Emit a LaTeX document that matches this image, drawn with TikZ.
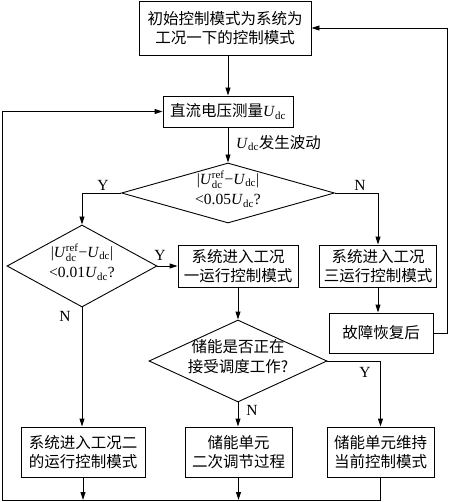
\documentclass[tikz,border=0pt]{standalone}
\usepackage{amsmath}
\usepackage{fontspec}
\setmainfont{Liberation Serif}
\newfontfamily\cjk{Noto Sans CJK SC}
\usetikzlibrary{arrows.meta,shapes.geometric,calc}
\newcommand\myUdc{\textit{U}$_{\text{dc}}$}
\newcommand\myUref{\textit{U\/}$^{\text{ref}}_{\text{dc}}$}
\newcommand\dtext[1]{\raisebox{-2pt}{\makebox[0pt]{\smash{\begin{tabular}{@{}c@{}}#1\end{tabular}}}}}
\begin{document}
\begin{tikzpicture}[x=1pt,y=-1pt,
  font=\fontsize{15.5}{19.5}\selectfont,
  every node/.style={inner sep=0pt},
  box/.style={draw, line width=0.9pt, align=center, font=\fontsize{15.5}{19.5}\selectfont\cjk},
  dia/.style={draw, line width=0.9pt, diamond, shape aspect=1},
  lbl/.style={font=\fontsize{15.5}{19.5}\selectfont},
  line/.style={line width=0.9pt},
  arr/.style={line width=0.9pt, -{Triangle[length=8pt,width=5pt]}}]
\useasboundingbox (0,0) rectangle (450,502);
% nodes
\node[box, minimum width=172pt, minimum height=54pt] (top) at (225,28) {初始控制模式为系统为\\工况一下的控制模式};
\node[box, minimum width=130pt, minimum height=31pt] (meas) at (228,111.5) {直流电压测量{\rmfamily\myUdc}};
\node[lbl, anchor=west] (wave) at (236,143) {\myUdc{\cjk 发生波动}};
\node[dia, minimum width=213pt, minimum height=60pt] (d1) at (228,193) {\dtext{|\myUref−\myUdc|\\[1pt]<0.05\myUdc?}};
\node[dia, minimum width=150pt, minimum height=82pt] (d2) at (82,266) {\dtext{|\myUref−\myUdc|\\[1pt]<0.01\myUdc?}};
\node[box, minimum width=120pt, minimum height=42pt] (b1) at (238,266) {系统进入工况\\一运行控制模式};
\node[box, minimum width=117pt, minimum height=42pt] (b3) at (378,266) {系统进入工况\\三运行控制模式};
\node[box, minimum width=104pt, minimum height=40pt] (fault) at (381,333) {故障恢复后};
\node[dia, minimum width=178pt, minimum height=82pt] (d3) at (238,361) {\dtext{\cjk 储能是否正在\\\cjk 接受调度工作?}};
\node[box, minimum width=124pt, minimum height=50pt] (b2) at (83,452) {系统进入工况二\\的运行控制模式};
\node[box, minimum width=107pt, minimum height=50pt] (bn) at (238.5,452) {储能单元\\二次调节过程};
\node[box, minimum width=107pt, minimum height=50pt] (by) at (380.5,452) {储能单元维持\\当前控制模式};
% labels
\node[lbl] (y1) at (103,185) {Y};
\node[lbl] (n1) at (360,185) {N};
\node[lbl] (y2) at (160,255) {Y};
\node[lbl] (n2) at (65,316) {N};
\node[lbl] (y3) at (365,372) {Y};
\node[lbl] (n3) at (252,410) {N};
% coordinates
\coordinate (R) at (447,28);
\coordinate (BL) at (2,500);
% connectors
\draw[arr] (top.south -| meas.north) -- (meas.north);
\draw[arr] (meas.south -| d1.north) -- (d1.north);
\draw[arr] (d1.west) -| (d2.north);
\draw[arr] (d1.east) -| (b3.north);
\draw[arr] (d2.east) -- (b1.west);
\draw[arr] (b1.south) -- (d3.north);
\draw[arr] (b3.south) -- (b3.south |- fault.north);
\draw[arr] (d2.south) -- (d2.south |- b2.north);
\draw[arr] (d3.south) -- (d3.south |- bn.north);
\draw[arr] (d3.east) -| (by.north);
\draw[arr] (fault.east) -| (R) -- (top.east);
\draw[arr] (b2.south) -- (b2.south |- BL);
\draw[arr] (bn.south) -- (bn.south |- BL);
\draw[arr] (by.south) |- (BL) |- (meas.west);
\end{tikzpicture}
\end{document}
